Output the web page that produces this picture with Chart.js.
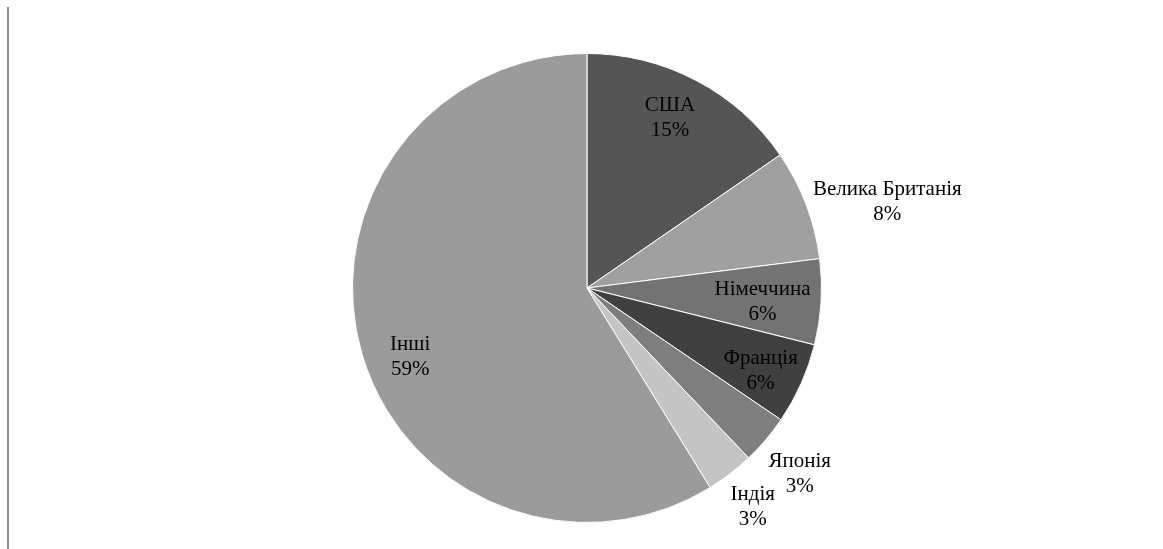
<!DOCTYPE html>
<html>
<head>
<meta charset="utf-8">
<script src="https://cdn.jsdelivr.net/npm/chart.js@4.4.1/dist/chart.umd.min.js"></script>
<style>
  html, body { margin: 0; padding: 0; background: #ffffff; }
  #wrap { position: relative; width: 1163px; height: 549px; }
  #rule { position: absolute; left: 7px; top: 7px; width: 2px; height: 542px; background: #8c8c8c; }
  canvas { position: absolute; left: 0; top: 0; }
  .preload { font-family: "Liberation Serif"; position: absolute; left: -9999px; }
</style>
</head>
<body>
<div id="wrap">
  <div id="rule"></div>
  <canvas id="chart" width="1163" height="549"></canvas>
</div>
<span class="preload">США Інші</span>
<script>
// Share by country, percent
const countries = ['США', 'Велика Британія', 'Німеччина', 'Франція', 'Японія', 'Індія', 'Інші'];
const shares = [15.4, 7.6, 5.9, 5.6, 3.4, 3.3, 58.8];
const sliceColors = ['#555555', '#a0a0a0', '#737373', '#404040', '#7e7e7e', '#c4c4c4', '#9b9b9b'];
// Label placement: distance from centre (fraction of radius) and angular nudge (degrees)
const labelRadius = [0.815, 1.334, 0.75, 0.817, 1.2, 1.164, 0.807];
const labelNudge = [-2, 4.6, 0.5, 0.9, 0.6, 0.25, -5];

const total = shares.reduce((a, b) => a + b, 0);
const labelFont = '21px "Liberation Serif"';
const lineGap = 25;
const baselineShift = 2;

const sliceLabels = {
  id: 'sliceLabels',
  afterDatasetsDraw(chart) {
    const ctx = chart.ctx;
    const meta = chart.getDatasetMeta(0);
    ctx.save();
    ctx.font = labelFont;
    ctx.fillStyle = '#000000';
    ctx.textAlign = 'center';
    ctx.textBaseline = 'middle';
    meta.data.forEach((arc, i) => {
      const p = arc.getProps(['x', 'y', 'startAngle', 'endAngle', 'outerRadius'], true);
      const mid = (p.startAngle + p.endAngle) / 2 + labelNudge[i] * Math.PI / 180;
      const r = p.outerRadius * labelRadius[i];
      const cx = p.x + Math.cos(mid) * r;
      const cy = p.y + Math.sin(mid) * r + baselineShift;
      const pct = Math.round(shares[i] / total * 100) + '%';
      ctx.fillText(countries[i], cx, cy - lineGap / 2);
      ctx.fillText(pct, cx, cy + lineGap / 2);
    });
    ctx.restore();
  }
};

function draw() {
  new Chart(document.getElementById('chart'), {
    type: 'pie',
    data: {
      labels: countries,
      datasets: [{
        data: shares,
        backgroundColor: sliceColors,
        borderColor: '#ffffff',
        borderWidth: 1
      }]
    },
    options: {
      responsive: false,
      animation: false,
      layout: { padding: { left: 100, right: 89, top: 53, bottom: 26 } },
      plugins: {
        legend: { display: false },
        tooltip: { enabled: false }
      }
    },
    plugins: [sliceLabels]
  });
}

document.fonts.load(labelFont, 'СШАІнші').then(draw, draw);
</script>
</body>
</html>
